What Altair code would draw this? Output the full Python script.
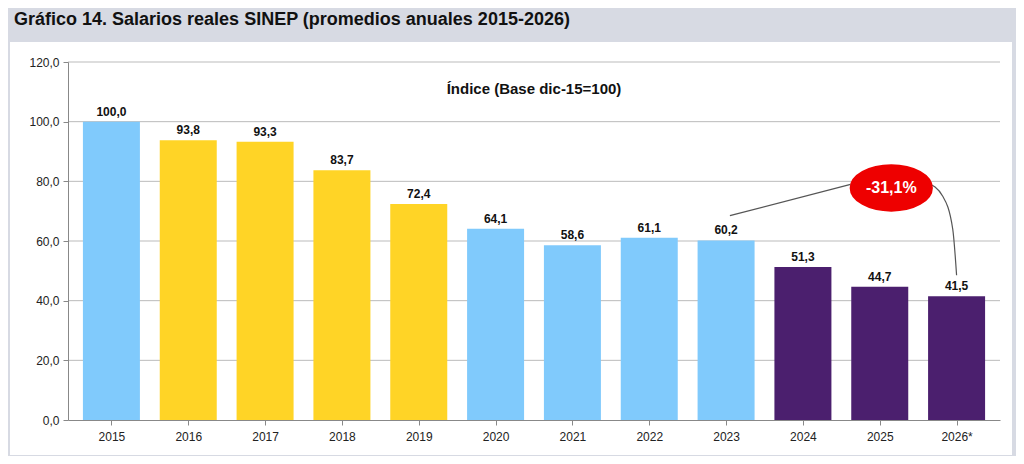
import altair as alt
import pandas as pd

years = ["2015","2016","2017","2018","2019","2020","2021","2022","2023","2024","2025","2026*"]
values = [100.0,93.8,93.3,83.7,72.4,64.1,58.6,61.1,60.2,51.3,44.7,41.5]
groups = ["a","b","b","b","b","a","a","a","a","c","c","c"]
labels = [f"{v:.1f}".replace(".", ",") for v in values]
yticks = [0, 20, 40, 60, 80, 100, 120]

df = pd.DataFrame({"i": list(range(len(years))), "year": years, "value": values, "group": groups, "label": labels})
one = pd.DataFrame({"k": [0]})
grid = pd.DataFrame({"g": yticks[1:]})

W, H = 932, 358
yscale = alt.Scale(domain=[0, 120])
xq = alt.Scale(domain=[-0.5, 11.5], nice=False, zero=False)
yr_expr = "[" + ",".join(f"'{y}'" for y in years) + "][datum.value]"

bg = alt.Chart(one).mark_rect(fill="white", clip=False).encode(
    x=alt.value(-58), x2=alt.value(944), y=alt.value(-20), y2=alt.value(393))

grid_l = alt.Chart(grid).mark_rule(color="#bbbbbb", strokeWidth=1).encode(
    y=alt.Y("g:Q", scale=yscale), x=alt.value(0), x2=alt.value(W))

bars = alt.Chart(df).mark_bar(size=57).encode(
    x=alt.X("i:Q", scale=xq, title=None,
            axis=alt.Axis(values=list(range(12)), labelExpr=yr_expr, grid=False, labelFontSize=12, zindex=1,
                          labelColor="#222", domainColor="#888", tickColor="#888", labelPadding=6)),
    y=alt.Y("value:Q", scale=yscale, title=None,
            axis=alt.Axis(values=yticks, labelExpr="replace(format(datum.value,'.1f'),'.',',')", grid=False,
                          labelFontSize=12, labelColor="#222", domainColor="#888", zindex=1,
                          tickColor="#888", labelPadding=4)),
    color=alt.Color("group:N", scale=alt.Scale(domain=["a","b","c"], range=["#80cafc","#ffd426","#4b1f6e"]), legend=None))

txt = alt.Chart(df).mark_text(dy=-10, fontSize=12, fontWeight="bold", color="#111").encode(
    x=alt.X("i:Q", scale=xq), y=alt.Y("value:Q", scale=yscale), text="label:N")

sub = alt.Chart(one).mark_text(fontSize=15, fontWeight="bold", color="#111").encode(
    x=alt.value(W/2), y=alt.value(27), text=alt.value("Índice (Base dic-15=100)"))

title = alt.Chart(one).mark_text(fontSize=18, fontWeight="bold", align="left", color="#111").encode(
    x=alt.value(-54), y=alt.value(-42), text=alt.value("Gráfico 14.  Salarios reales SINEP (promedios anuales 2015-2026)"))

l1 = pd.DataFrame({"i": [8.05, 9.62], "v": [68.5, 79.0]})
l2 = pd.DataFrame({"i": [10.62, 10.82, 10.95, 11.0], "v": [79.5, 75.0, 64.0, 48.5]})
line1 = alt.Chart(l1).mark_line(color="#555", strokeWidth=1.2).encode(
    x=alt.X("i:Q", scale=xq), y=alt.Y("v:Q", scale=yscale))
line2 = alt.Chart(l2).mark_line(color="#555", strokeWidth=1.2, interpolate="monotone").encode(
    x=alt.X("i:Q", scale=xq), y=alt.Y("v:Q", scale=yscale))
ell = pd.DataFrame({"i": [10.15], "v": [77.8], "t": ["-31,1%"]})
ellipse = alt.Chart(ell).mark_point(
    shape="M-1,0 A1,0.56 0 1,0 1,0 A1,0.56 0 1,0 -1,0 Z", size=6600, filled=True, fill="#ee0000", opacity=1,
    stroke="#ee0000").encode(x=alt.X("i:Q", scale=xq), y=alt.Y("v:Q", scale=yscale))
etext = alt.Chart(ell).mark_text(color="white", fontSize=16, fontWeight="bold").encode(
    x=alt.X("i:Q", scale=xq), y=alt.Y("v:Q", scale=yscale), text="t:N")

chart = alt.layer(bg, grid_l, bars, txt, sub, title, line1, line2, ellipse, etext).properties(
    width=W, height=H, autosize=alt.AutoSizeParams(type="none"),
    padding={"left": 60, "top": 54, "right": 16, "bottom": 36}
).configure(background="#d7dae3", font="Liberation Sans").configure_view(stroke=None)

chart.save("out.html", embed_options={"renderer": "svg", "actions": False})
